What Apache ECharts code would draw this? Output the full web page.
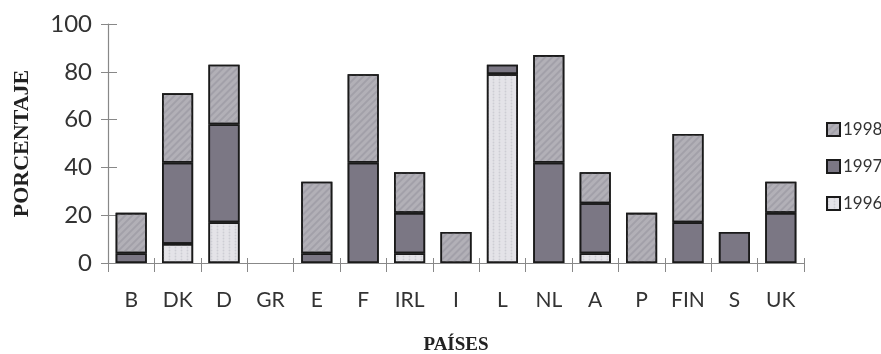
<!DOCTYPE html>
<html>
<head>
<meta charset="utf-8">
<script src="https://cdn.jsdelivr.net/npm/echarts@6/dist/echarts.min.js"></script>
<style>html,body{margin:0;padding:0;background:#fff;}#c{width:881px;height:354px;}</style>
</head>
<body>
<div id="c"></div>
<script>
const categories = ['B','DK','D','GR','E','F','IRL','I','L','NL','A','P','FIN','S','UK'];
const v1996 = [0, 8, 17, 0, 0, 0, 4, 0, 79, 0, 4, 0, 0, 0, 0];
const v1997 = [4, 34, 41, 0, 4, 42, 17, 0, 4, 42, 21, 0, 17, 13, 21];
const v1998 = [17, 29, 25, 0, 30, 37, 17, 13, 0, 45, 13, 21, 37, 0, 13];
const yTicks = [0, 20, 40, 60, 80, 100];

const clean = a => a.map(v => v === 0 ? '-' : v);
const font = 'Lato, "Open Sans", sans-serif';
const border = { borderColor: '#1a1a1a', borderWidth: 1.6 };

const chart = echarts.init(document.getElementById('c'), null, { renderer: 'canvas' });
chart.setOption({
  animation: false,
  backgroundColor: '#ffffff',
  grid: { left: 108, right: 77, top: 24, bottom: 91, containLabel: false, outerBoundsMode: 'none' },
  legend: {
    orient: 'vertical', left: 821, top: 116, itemGap: 20,
    itemWidth: 13, itemHeight: 13, icon: 'rect',
    data: ['1998', '1997', '1996'],
    textStyle: { fontFamily: font, fontSize: 17, color: '#333', padding: [0, 0, 0, -2] }
  },
  xAxis: [{
    type: 'category', data: categories,
    axisLine: { lineStyle: { color: '#888', width: 1.2 } },
    axisTick: { show: true, length: 9, lineStyle: { color: '#888' } },
    axisLabel: { fontFamily: font, fontSize: 21, color: '#333', margin: 27 },
    name: 'PAÍSES', nameLocation: 'middle', nameGap: 73,
    nameTextStyle: { fontFamily: '"Liberation Serif", serif', fontWeight: 'bold', fontSize: 19, color: '#222' }
  }, {
    type: 'category', data: categories, position: 'bottom',
    axisLine: { show: false },
    axisTick: { show: true, inside: true, length: 5, lineStyle: { color: '#888' } },
    axisLabel: { show: false }
  }],
  yAxis: [{
    type: 'value', min: 0, max: 100, interval: 20,
    axisLine: { show: true, lineStyle: { color: '#888', width: 1.2 } },
    axisTick: { show: true, length: 7, lineStyle: { color: '#888' } },
    splitLine: { show: false },
    axisLabel: { fontFamily: font, fontSize: 24, color: '#333', margin: 16,
      formatter: v => yTicks.includes(v) ? String(v) : '' },
    name: 'PORCENTAJE', nameLocation: 'middle', nameGap: 75,
    nameTextStyle: { fontFamily: '"Liberation Serif", serif', fontWeight: 'bold', fontSize: 22, color: '#222' }
  }, {
    type: 'value', min: 0, max: 100, interval: 20, position: 'left',
    axisLine: { show: false },
    axisTick: { show: true, inside: true, length: 9, lineStyle: { color: '#888' } },
    splitLine: { show: false }, axisLabel: { show: false }
  }],
  series: [
    { name: '1996', type: 'bar', stack: 't', barWidth: '67%', data: clean(v1996),
      itemStyle: Object.assign({ color: '#e4e3e8',
        decal: { symbol: 'circle', symbolSize: 0.6, dashArrayX: [[3, 3]], dashArrayY: [3, 0], color: 'rgba(190,190,198,0.6)' } }, border) },
    { name: '1997', type: 'bar', stack: 't', data: clean(v1997),
      itemStyle: Object.assign({ color: '#7b7784', decal: { symbol: 'none' } }, border) },
    { name: '1998', type: 'bar', stack: 't', data: clean(v1998),
      itemStyle: Object.assign({ color: '#b2b0b7',
        decal: { symbol: 'rect', dashArrayX: [1, 0], dashArrayY: [2, 3], rotation: -Math.PI / 4, color: 'rgba(150,148,156,0.55)' } }, border) }
  ]
});
</script>
</body>
</html>
